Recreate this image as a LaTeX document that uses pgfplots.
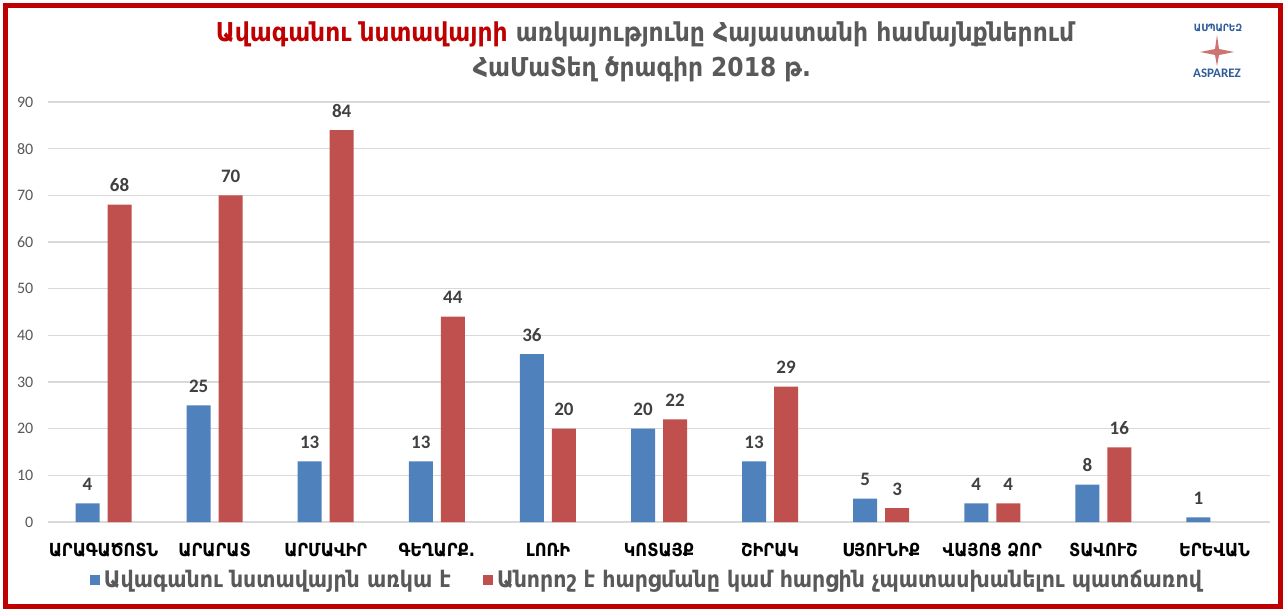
\documentclass[border=0pt]{standalone}
\usepackage{fontspec}
\setmainfont{Carlito}
\newfontfamily\arm{DejaVu Sans Condensed}
\usepackage{pgfplots}
\pgfplotsset{compat=1.18}
\definecolor{barblue}{HTML}{4F81BD}
\definecolor{barred}{HTML}{C0504D}
\definecolor{txtgray}{HTML}{595959}
\definecolor{lblgray}{HTML}{404040}
\definecolor{framered}{HTML}{C00000}
\definecolor{gridgray}{HTML}{D9D9D9}
\definecolor{logoblue}{HTML}{2F5C9A}
\begin{document}
\begin{tikzpicture}[x=1pt,y=1pt]
\useasboundingbox (0,0) rectangle (642.5,-305.5);
\fill[white] (0,0) rectangle (642.5,-305.5);
% title
\node[font=\arm\bfseries\fontsize{13}{15}\selectfont, text=txtgray] at (322.5,-17)
  {\textcolor{framered}{Ավագանու նստավայրի} առկայությունը Հայաստանի համայնքներում};
\node[font=\arm\bfseries\fontsize{13}{15}\selectfont, text=txtgray] at (321,-34.5)
  {ՀաՄաՏեղ ծրագիր 2018 թ.};
% logo
\node[font=\arm\bfseries\fontsize{5}{6}\selectfont, text=logoblue] at (609,-14) {ԱՍՊԱՐԵԶ};
\fill[barred!80] (608.5,-17.5) -- (609.5,-24.5) -- (617,-26) -- (609.5,-27.5) -- (608.5,-33) -- (607.5,-27.5) -- (600,-26) -- (607.5,-24.5) -- cycle;
\node[font=\bfseries\fontsize{6.5}{7}\selectfont, text=logoblue] at (608.5,-36.5) {ASPAREZ};
\begin{axis}[
  at={(24pt,-261pt)}, anchor=south west,
  scale only axis, width=611pt, height=210pt,
  xmin=-0.5, xmax=10.5, ymin=0, ymax=90,
  ytick={0,10,...,90},
  xtick={0,...,10},
  xticklabels={ԱՐԱԳԱԾՈՏՆ,ԱՐԱՐԱՏ,ԱՐՄԱՎԻՐ,ԳԵՂԱՐՔ.,ԼՈՌԻ,ԿՈՏԱՅՔ,ՇԻՐԱԿ,ՍՅՈՒՆԻՔ,ՎԱՅՈՑ ՁՈՐ,ՏԱՎՈՒՇ,ԵՐԵՎԱՆ},
  xticklabel style={font=\arm\bfseries\fontsize{9}{11}\selectfont, text=black, yshift=-7pt},
  yticklabel style={font=\fontsize{8}{10}\selectfont, text=txtgray, xshift=-3.8pt},
  /pgf/number format/assume math mode=true,
  ymajorgrids, grid style={draw=gridgray, line width=0.6pt},
  axis line style={draw=none}, major tick length=0pt,
  legend style={at={(axis description cs:0.491,-0.138)}, anchor=center, draw=none, fill=none,
    font=\arm\bfseries\fontsize{11.4}{13}\selectfont, text=txtgray,
    /tikz/every even column/.append style={column sep=14pt}},
  legend columns=2, legend cell align=left,
  legend image code/.code={\fill[#1] (0pt,-2.5pt) rectangle (5pt,2.5pt);},
  nodes near coords,
  every node near coord/.append style={font=\bfseries\fontsize{9.5}{11}\selectfont, text=lblgray, anchor=base, inner sep=0pt, yshift=6.5pt},
]
\addplot[ybar, bar width=12pt, bar shift=-8pt, fill=barblue, draw=none,
  every node near coord/.append style={xshift=-8pt}]
  coordinates {(0,4) (1,25) (2,13) (3,13) (4,36) (5,20) (6,13) (7,5) (8,4) (9,8) (10,1)};
\addlegendentry{Ավագանու նստավայրն առկա  է}
\addplot[ybar, bar width=12pt, bar shift=8pt, fill=barred, draw=none,
  every node near coord/.append style={xshift=8pt}]
  coordinates {(0,68) (1,70) (2,84) (3,44) (4,20) (5,22) (6,29) (7,3) (8,4) (9,16)};
\addlegendentry{Անորոշ է հարցմանը կամ հարցին չպատասխանելու պատճառով}
\end{axis}
\draw[framered, line width=2.5pt] (2.5,-2.5) rectangle (640,-303);
\end{tikzpicture}
\end{document}
